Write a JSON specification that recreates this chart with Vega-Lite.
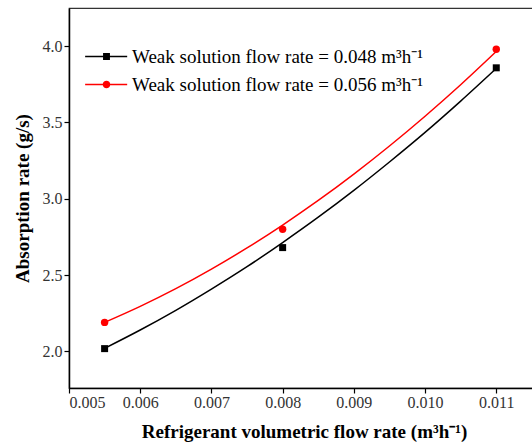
{
  "$schema": "https://vega.github.io/schema/vega-lite/v6.json",
  "width": 470,
  "height": 380,
  "autosize": {"type": "none"},
  "padding": {"left": 69, "top": 8, "right": 0, "bottom": 59},
  "background": "white",
  "config": {
    "view": {"stroke": "#333", "strokeWidth": 1.2},
    "font": "Liberation Serif",
    "axis": {
      "labelFont": "Liberation Serif",
      "titleFont": "Liberation Serif",
      "grid": false,
      "domainColor": "black",
      "domainWidth": 1.5,
      "tickColor": "black",
      "tickWidth": 1.2,
      "tickSize": 5,
      "labelColor": "#333",
      "labelFontSize": 16,
      "titleFontSize": 19,
      "titleFontWeight": "bold",
      "titleColor": "black"
    },
    "legend": {"labelFont": "Liberation Serif"}
  },
  "datasets": {
    "points": [
      {"series": "Weak solution flow rate = 0.048 m³h⁻¹", "x": 0.0055, "y": 2.018},
      {"series": "Weak solution flow rate = 0.048 m³h⁻¹", "x": 0.008, "y": 2.68},
      {"series": "Weak solution flow rate = 0.048 m³h⁻¹", "x": 0.011, "y": 3.858},
      {"series": "Weak solution flow rate = 0.056 m³h⁻¹", "x": 0.0055, "y": 2.19},
      {"series": "Weak solution flow rate = 0.056 m³h⁻¹", "x": 0.008, "y": 2.8},
      {"series": "Weak solution flow rate = 0.056 m³h⁻¹", "x": 0.011, "y": 3.98}
    ],
    "curves": [
      {"series": "0.048", "x": 0.0055, "y": 2.02},
      {"series": "0.048", "x": 0.006, "y": 2.14},
      {"series": "0.048", "x": 0.0065, "y": 2.269},
      {"series": "0.048", "x": 0.007, "y": 2.408},
      {"series": "0.048", "x": 0.0075, "y": 2.555},
      {"series": "0.048", "x": 0.008, "y": 2.713},
      {"series": "0.048", "x": 0.0085, "y": 2.879},
      {"series": "0.048", "x": 0.009, "y": 3.055},
      {"series": "0.048", "x": 0.0095, "y": 3.241},
      {"series": "0.048", "x": 0.01, "y": 3.435},
      {"series": "0.048", "x": 0.0105, "y": 3.64},
      {"series": "0.048", "x": 0.011, "y": 3.854},
      {"series": "0.056", "x": 0.0055, "y": 2.19},
      {"series": "0.056", "x": 0.006, "y": 2.295},
      {"series": "0.056", "x": 0.0065, "y": 2.411},
      {"series": "0.056", "x": 0.007, "y": 2.539},
      {"series": "0.056", "x": 0.0075, "y": 2.678},
      {"series": "0.056", "x": 0.008, "y": 2.828},
      {"series": "0.056", "x": 0.0085, "y": 2.989},
      {"series": "0.056", "x": 0.009, "y": 3.162},
      {"series": "0.056", "x": 0.0095, "y": 3.346},
      {"series": "0.056", "x": 0.01, "y": 3.541},
      {"series": "0.056", "x": 0.0105, "y": 3.747},
      {"series": "0.056", "x": 0.011, "y": 3.965}
    ]
  },
  "layer": [
    {
      "data": {"name": "curves"},
      "transform": [{"filter": "datum.series == '0.048'"}],
      "mark": {"type": "line", "strokeWidth": 1.5, "color": "black", "interpolate": "monotone"},
      "encoding": {
        "x": {
          "field": "x", "type": "quantitative",
          "scale": {"domain": [0.005, 0.0116], "nice": false, "zero": false},
          "axis": {"values": [0.005, 0.006, 0.007, 0.008, 0.009, 0.01, 0.011], "format": ".3f", "title": "Refrigerant volumetric flow rate (m³h⁻¹)", "labelPadding": 1, "titlePadding": 12}
        },
        "y": {
          "field": "y", "type": "quantitative",
          "scale": {"domain": [1.76, 4.25], "nice": false, "zero": false},
          "axis": {"values": [2.0, 2.5, 3.0, 3.5, 4.0], "format": ".1f", "title": "Absorption rate (g/s)", "labelPadding": 2, "titlePadding": 10}
        }
      }
    },
    {
      "data": {"name": "curves"},
      "transform": [{"filter": "datum.series == '0.056'"}],
      "mark": {"type": "line", "strokeWidth": 1.5, "color": "red", "interpolate": "monotone"},
      "encoding": {
        "x": {"field": "x", "type": "quantitative"},
        "y": {"field": "y", "type": "quantitative"}
      }
    },
    {
      "data": {"name": "points"},
      "transform": [{"filter": "datum.series == 'Weak solution flow rate = 0.048 m³h⁻¹'"}],
      "mark": {"type": "point", "shape": "square", "filled": true, "color": "black", "size": 49, "opacity": 1},
      "encoding": {
        "x": {"field": "x", "type": "quantitative"},
        "y": {"field": "y", "type": "quantitative"}
      }
    },
    {
      "data": {"name": "points"},
      "transform": [{"filter": "datum.series == 'Weak solution flow rate = 0.056 m³h⁻¹'"}],
      "mark": {"type": "point", "shape": "circle", "filled": true, "color": "red", "size": 55, "opacity": 1},
      "encoding": {
        "x": {"field": "x", "type": "quantitative"},
        "y": {"field": "y", "type": "quantitative"}
      }
    },
    {
      "data": {"name": "points"},
      "mark": {"type": "point", "filled": true, "size": 190, "opacity": 0},
      "encoding": {
        "x": {"field": "x", "type": "quantitative"},
        "y": {"field": "y", "type": "quantitative"},
        "color": {
          "field": "series", "type": "nominal",
          "scale": {"domain": ["Weak solution flow rate = 0.048 m³h⁻¹", "Weak solution flow rate = 0.056 m³h⁻¹"], "range": ["black", "red"]},
          "legend": {
            "title": null,
            "orient": "none",
            "legendX": 28,
            "legendY": 39,
            "padding": 0,
            "labelFont": "Liberation Serif",
            "labelFontSize": 19,
            "labelColor": "black",
            "labelOffset": 16,
            "labelLimit": 400,
            "rowPadding": 8,
            "symbolSize": 190,
            "symbolOpacity": 1,
            "symbolStrokeWidth": 0,
            "encode": {"symbols": {"update": {"opacity": {"value": 1}, "fillOpacity": {"value": 1}, "size": {"value": 190}}}}
          }
        },
        "shape": {
          "field": "series", "type": "nominal",
          "scale": {
            "domain": ["Weak solution flow rate = 0.048 m³h⁻¹", "Weak solution flow rate = 0.056 m³h⁻¹"],
            "range": [
              "M-3.1,-0.1H3.0V0.1H-3.1Z M-0.5,-0.5H0.5V0.5H-0.5Z",
              "M-3.1,-0.1H3.0V0.1H-3.1Z M0.55,0A0.55,0.55 0 1,1 -0.55,0A0.55,0.55 0 1,1 0.55,0Z"
            ]
          },
          "legend": {
            "title": null,
            "orient": "none",
            "legendX": 28,
            "legendY": 39,
            "padding": 0,
            "labelFont": "Liberation Serif",
            "labelFontSize": 19,
            "labelColor": "black",
            "labelOffset": 16,
            "labelLimit": 400,
            "rowPadding": 8,
            "symbolSize": 190,
            "symbolOpacity": 1,
            "symbolStrokeWidth": 0,
            "encode": {"symbols": {"update": {"opacity": {"value": 1}, "fillOpacity": {"value": 1}, "size": {"value": 190}}}}
          }
        }
      }
    }
  ]
}
